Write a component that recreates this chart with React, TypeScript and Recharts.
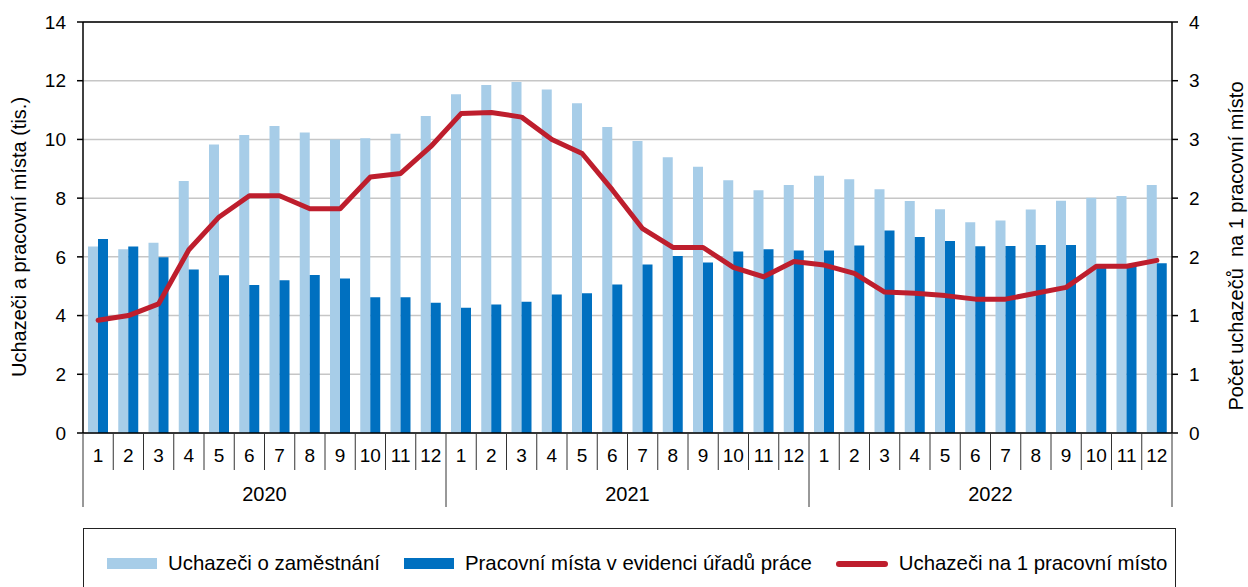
import { Bar, CartesianGrid, ComposedChart, Line, ReferenceLine, XAxis, YAxis } from "recharts";

// months 1..12 for three years
const months = ["1", "2", "3", "4", "5", "6", "7", "8", "9", "10", "11", "12"];
const years = ["2020", "2021", "2022"];

// Uchazeči o zaměstnání (tis.)
const uchazeci = [
  6.35, 6.26, 6.48, 8.58, 9.83, 10.15, 10.46, 10.24, 10.0, 10.04, 10.19, 10.8,
  11.54, 11.85, 11.96, 11.7, 11.23, 10.42, 9.95, 9.39, 9.07, 8.61, 8.27, 8.45,
  8.76, 8.64, 8.3, 7.9, 7.62, 7.18, 7.24, 7.61, 7.91, 8.01, 8.07, 8.45
];

// Pracovní místa v evidenci úřadů práce (tis.)
const mista = [
  6.61, 6.35, 5.99, 5.57, 5.37, 5.04, 5.2, 5.38, 5.26, 4.62, 4.62, 4.44,
  4.27, 4.38, 4.47, 4.72, 4.76, 5.06, 5.74, 6.03, 5.81, 6.18, 6.26, 6.22,
  6.22, 6.39, 6.9, 6.68, 6.54, 6.36, 6.37, 6.4, 6.4, 5.72, 5.72, 5.78
];

// Uchazeči na 1 pracovní místo
const pomer = [
  0.96, 1.0, 1.1, 1.56, 1.84, 2.02, 2.02, 1.91, 1.91, 2.18, 2.21, 2.44,
  2.72, 2.73, 2.69, 2.5, 2.38, 2.07, 1.74, 1.58, 1.58, 1.41, 1.33, 1.46,
  1.43, 1.36, 1.2, 1.19, 1.17, 1.14, 1.14, 1.19, 1.24, 1.42, 1.42, 1.47
];

const leftTicks = [0, 2, 4, 6, 8, 10, 12, 14];
const rightTicks = [0, 0.5, 1, 1.5, 2, 2.5, 3, 3.5];

const data = uchazeci.map((u, i) => ({
  month: months[i % 12],
  year: years[Math.floor(i / 12)],
  uchazeci: u,
  mista: mista[i],
  pomer: pomer[i]
}));

const W = 1248;
const H = 587;
const LEFT_W = 83;
const RIGHT_W = 76;
const STEP = (W - LEFT_W - RIGHT_W) / data.length;
const FONT = "'Liberation Sans', Arial, sans-serif";

const LIGHT = "#a7cde8";
const DARK = "#0070c0";
const RED = "#be1e2d";

const MonthTick = (props: any) => {
  const { x, y, payload } = props;
  const i: number = payload.index ?? props.index;
  const left = x - STEP / 2;
  const yearStart = i % 12 === 0;
  return (
    <g>
      <line x1={left} x2={left} y1={y} y2={y + (yearStart ? 74 : 37)} stroke="#333" strokeWidth={1} />
      {i === data.length - 1 && (
        <line x1={left + STEP} x2={left + STEP} y1={y} y2={y + 74} stroke="#333" strokeWidth={1} />
      )}
      <text x={x} y={y + 29} textAnchor="middle" fontSize={19} fill="#000" fontFamily={FONT}>
        {payload.value}
      </text>
      {i % 12 === 5 && (
        <text x={x + STEP / 2} y={y + 68} textAnchor="middle" fontSize={20} fill="#000" fontFamily={FONT}>
          {data[i].year}
        </text>
      )}
    </g>
  );
};

const axisTitle = (x: number, y: number, text: string) => () => (
  <text
    x={x}
    y={y}
    transform={`rotate(-90 ${x} ${y})`}
    textAnchor="middle"
    dominantBaseline="central"
    fontSize={20}
    fill="#000"
    fontFamily={FONT}
    style={{ whiteSpace: "pre" }}
  >
    {text}
  </text>
);

const LegendItem = ({ kind, label }: { kind: "light" | "dark" | "line"; label: string }) => (
  <div style={{ display: "flex", alignItems: "center", gap: 11 }}>
    {kind === "line" ? (
      <div style={{ width: 52, height: 6, borderRadius: 3, background: RED }} />
    ) : (
      <div style={{ width: 50, height: 11, background: kind === "light" ? LIGHT : DARK }} />
    )}
    <span>{label}</span>
  </div>
);

export default function App() {
  return (
    <div style={{ position: "relative", width: W, height: H, overflow: "hidden", fontFamily: FONT, background: "#fff" }}>
      <style>{"body{margin:0}"}</style>
      <ComposedChart
        width={W}
        height={H}
        data={data}
        margin={{ top: 22, right: 0, bottom: 80, left: 0 }}
        barSize={10}
        barGap={0}
      >
        <CartesianGrid xAxisId="m" yAxisId="left" vertical={false} stroke="#c6c6c6" strokeWidth={1.5} />
        <XAxis
          xAxisId="m"
          dataKey="month"
          interval={0}
          height={74}
          tickLine={false}
          tickSize={0}
          tickMargin={0}
          axisLine={{ stroke: "#000", strokeWidth: 1.5 }}
          tick={<MonthTick />}
        />
        <YAxis
          yAxisId="left"
          width={LEFT_W}
          domain={[0, 14]}
          ticks={leftTicks}
          interval={0}
          tickSize={6}
          tickMargin={11}
          axisLine={{ stroke: "#000", strokeWidth: 1.5 }}
          tickLine={{ stroke: "#000", strokeWidth: 1.5 }}
          tick={{ fill: "#000", fontSize: 19, fontFamily: FONT }}
          label={axisTitle(19, 237, "Uchazeči a pracovní místa (tis.)")}
        />
        <YAxis
          yAxisId="right"
          orientation="right"
          width={RIGHT_W}
          domain={[0, 3.5]}
          ticks={rightTicks}
          interval={0}
          tickSize={6}
          tickMargin={11}
          tickFormatter={(v: number) => String(Math.round(v))}
          axisLine={{ stroke: "#000", strokeWidth: 1.5 }}
          tickLine={{ stroke: "#000", strokeWidth: 1.5 }}
          tick={{ fill: "#000", fontSize: 19, fontFamily: FONT }}
          label={axisTitle(1236, 246, "Počet uchazečů  na 1 pracovní místo")}
        />
        <ReferenceLine xAxisId="m" yAxisId="left" y={14} stroke="#000" strokeWidth={1.5} />
        <Bar xAxisId="m" yAxisId="left" dataKey="uchazeci" fill={LIGHT} isAnimationActive={false} />
        <Bar xAxisId="m" yAxisId="left" dataKey="mista" fill={DARK} isAnimationActive={false} />
        <Line
          xAxisId="m"
          yAxisId="right"
          type="linear"
          dataKey="pomer"
          stroke={RED}
          strokeWidth={5}
          strokeLinejoin="round"
          strokeLinecap="round"
          dot={false}
          activeDot={false}
          isAnimationActive={false}
        />
      </ComposedChart>
      <div
        style={{
          position: "absolute",
          left: 83,
          top: 528,
          width: 1093,
          height: 80,
          border: "1px solid #222",
          boxSizing: "border-box",
          display: "flex",
          alignItems: "flex-start",
          paddingTop: 23,
          paddingLeft: 23,
          gap: 24,
          fontSize: 20.4,
          color: "#000"
        }}
      >
        <LegendItem kind="light" label="Uchazeči o zaměstnání" />
        <LegendItem kind="dark" label="Pracovní místa v evidenci úřadů práce" />
        <LegendItem kind="line" label="Uchazeči na 1 pracovní místo" />
      </div>
    </div>
  );
}
